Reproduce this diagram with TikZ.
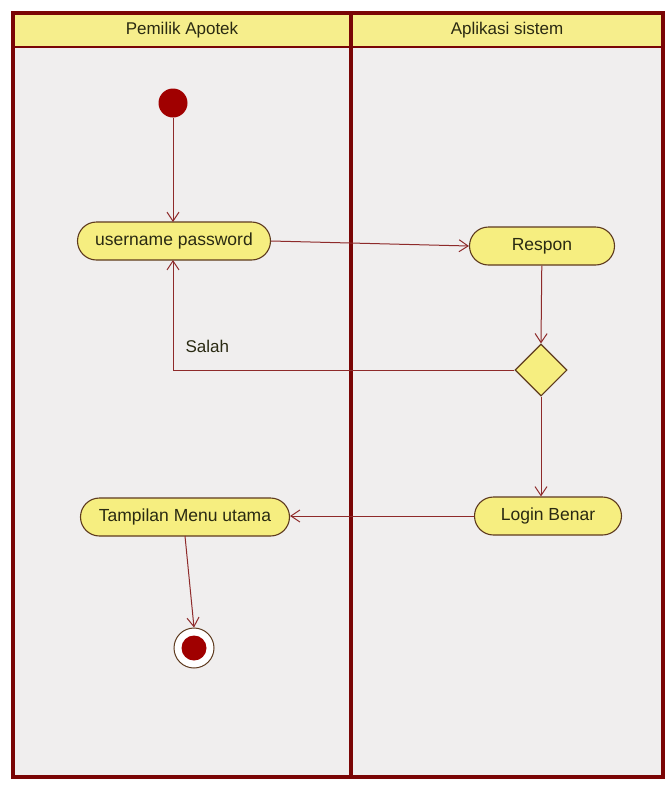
\documentclass[tikz,border=0pt]{standalone}
\usepackage{fontspec}
\setmainfont{Liberation Sans}
\usetikzlibrary{arrows.meta,shapes.geometric,shapes.misc}
\definecolor{frame}{HTML}{7A0505}
\definecolor{hdr}{HTML}{F6EE8C}
\definecolor{lane}{HTML}{F0EEEE}
\definecolor{actfill}{HTML}{F6EE80}
\definecolor{actdraw}{HTML}{5E3A1E}
\definecolor{edge}{HTML}{8E2A2A}
\definecolor{txt}{HTML}{2A2A12}
\definecolor{dot}{HTML}{A00000}
\tikzset{
  action/.style={rounded rectangle, draw=actdraw, fill=actfill, line width=1.1pt,
    minimum height=38pt, text=txt, font=\fontsize{17.5}{19}\selectfont, inner xsep=8pt},
  flow/.style={draw=edge, line width=1pt, -{Straight Barb[length=9pt,width=12pt,line width=1pt]}},
  decision/.style={diamond, draw=actdraw, fill=actfill, line width=1.1pt, minimum width=52pt, minimum height=52pt, inner sep=0pt},
  lbl/.style={text=txt, font=\fontsize{17}{19}\selectfont},
}
\begin{document}
\begin{tikzpicture}[x=1pt,y=-1pt]
\useasboundingbox (0,0) rectangle (665,785);
\fill[white] (0,0) rectangle (665,785);
% lanes
\fill[lane] (13,13) rectangle (663,777);
\fill[hdr] (13,13) rectangle (663,47);
\draw[frame, line width=3.5pt] (13,13) rectangle (663,777);
\draw[frame, line width=2.5pt] (13,47) -- (663,47);
\draw[frame, line width=3.5pt] (351,13) -- (351,777);
\node[lbl] (h1) at (182,30) {Pemilik Apotek};
\node[lbl] (h2) at (507,30) {Aplikasi sistem};
% nodes
\node[circle, fill=dot, minimum size=29pt, inner sep=0pt] (start) at (173,103) {};
\node[action, minimum width=209pt] (user) at (174,241) {username password};
\node[action, minimum width=161pt] (resp) at (542,246) {Respon};
\node[decision] (dec) at (541,370) {};
\node[action, minimum width=163pt] (login) at (548,516) {Login Benar};
\node[action, minimum width=225pt] (menu) at (185,517) {Tampilan Menu utama};
\node[circle, draw=actdraw, fill=white, line width=1pt, minimum size=40pt, inner sep=0pt] (end) at (194,648) {};
\node[circle, fill=dot, minimum size=25pt, inner sep=0pt] at (end) {};
\coordinate (bend) at (173,370);
% edges
\draw[flow] (start) -- (173,222);
\draw[flow] (user.east) -- (resp.west);
\draw[flow] (resp) -- (dec.north);
\draw[flow] (dec.west) -- (bend) -- (173,260);
\node[lbl, anchor=west] (salah) at (182,346) {Salah};
\draw[flow] (dec.south) -- (login.north -| dec.south);
\draw[flow] (login.west) -- (menu.east |- login.west);
\draw[flow] (185,536) -- (end.north);
\end{tikzpicture}
\end{document}
